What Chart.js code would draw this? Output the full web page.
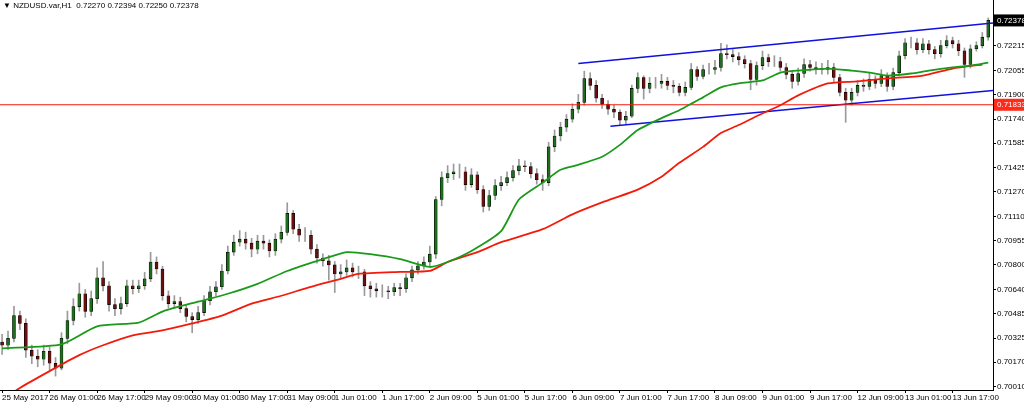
<!DOCTYPE html>
<html>
<head>
<meta charset="utf-8">
<script src="https://cdn.jsdelivr.net/npm/chart.js@4"></script>
<style>
  body { margin: 0; background: #fff; }
  #wrap { position: relative; width: 1024px; height: 402px; }
  #title { position: absolute; left: 3px; top: 1px; font: 8px 'Liberation Sans', sans-serif; color: #000; white-space: pre; }
</style>
</head>
<body>
<div id="wrap">
  <canvas id="myChart"></canvas>
  <div id="title">▼ NZDUSD.var,H1  0.72270 0.72394 0.72250 0.72378</div>
</div>
<script>
// 2-hour candles, 25 May 2017 -> 14 Jun 2017
const closes = [
  0.70279,0.70324,0.70471,0.70420,0.70247,0.70208,0.70189,0.70240,0.70163,0.70131,
  0.70324,0.70439,0.70529,0.70612,0.70497,0.70580,0.70715,0.70663,0.70542,0.70516,
  0.70548,0.70663,0.70644,0.70663,0.70708,0.70817,0.70772,0.70599,0.70548,0.70561,
  0.70516,0.70465,0.70445,0.70490,0.70567,0.70625,0.70657,0.70759,0.70881,0.70945,
  0.70965,0.70939,0.70900,0.70952,0.70939,0.70888,0.70965,0.71009,0.71131,0.71029,
  0.70990,0.70990,0.70900,0.70843,0.70824,0.70798,0.70740,0.70753,0.70779,0.70753,
  0.70753,0.70663,0.70644,0.70631,0.70631,0.70625,0.70651,0.70644,0.70715,0.70766,
  0.70792,0.70817,0.70868,0.71221,0.71362,0.71388,0.71400,0.71400,0.71317,0.71381,
  0.71285,0.71176,0.71247,0.71311,0.71330,0.71362,0.71407,0.71439,0.71433,0.71388,
  0.71349,0.71330,0.71561,0.71631,0.71689,0.71740,0.71804,0.71849,0.72003,0.71958,
  0.71875,0.71836,0.71804,0.71785,0.71734,0.71759,0.71939,0.72009,0.71939,0.71971,
  0.71971,0.71984,0.71958,0.71952,0.71913,0.71945,0.72061,0.72016,0.72061,0.72061,
  0.72074,0.72163,0.72157,0.72144,0.72125,0.72099,0.71997,0.72086,0.72138,0.72112,
  0.72112,0.72074,0.72029,0.71984,0.72035,0.72093,0.72074,0.72067,0.72061,0.72074,
  0.72009,0.71913,0.71862,0.71913,0.71958,0.71952,0.71997,0.71971,0.72022,0.71952,
  0.72041,0.72150,0.72234,0.72234,0.72189,0.72227,0.72189,0.72163,0.72215,0.72247,
  0.72227,0.72182,0.72093,0.72195,0.72215,0.72270,0.72378
];
const firstOpen = 0.70300;
const highs = [
  0.7035,0.7037,0.7053,0.7050,0.7045,0.7028,0.7025,0.7028,0.7027,0.7020,
  0.7036,0.7050,0.7058,0.7068,0.7064,0.7063,0.7078,0.7082,0.7069,0.7058,
  0.7059,0.7070,0.7070,0.7070,0.7075,0.7088,0.7085,0.7079,0.7063,0.7060,
  0.7059,0.7054,0.7049,0.7053,0.7060,0.7066,0.7069,0.7080,0.7092,0.7099,
  0.7102,0.7101,0.7097,0.7099,0.7099,0.7096,0.7100,0.7105,0.7120,0.7115,
  0.7106,0.7104,0.7102,0.7093,0.7087,0.7086,0.7082,0.7080,0.7083,0.7081,
  0.7079,0.7077,0.7069,0.7068,0.7067,0.7066,0.7068,0.7068,0.7074,0.7079,
  0.7082,0.7085,0.7092,0.7124,0.7140,0.7144,0.7145,0.7145,0.7143,0.7142,
  0.7140,0.7131,0.7128,0.7135,0.7137,0.7140,0.7144,0.7148,0.7147,0.7146,
  0.7142,0.7138,0.7159,0.7167,0.7172,0.7177,0.7184,0.7190,0.7205,0.7204,
  0.7199,0.7190,0.7186,0.7183,0.7180,0.7179,0.7196,0.7204,0.7202,0.7201,
  0.7201,0.7203,0.7201,0.7199,0.7197,0.7198,0.7210,0.7208,0.7209,0.7210,
  0.7212,0.7223,0.7222,0.7219,0.7217,0.7215,0.7212,0.7211,0.7218,0.7216,
  0.7215,0.7214,0.7210,0.7205,0.7207,0.7213,0.7212,0.7211,0.7210,0.7212,
  0.7210,0.7203,0.7194,0.7194,0.7199,0.7200,0.7204,0.7202,0.7206,0.7204,
  0.7207,0.7218,0.7226,0.7227,0.7226,0.7226,0.7225,0.7221,0.7225,0.7228,
  0.7227,0.7225,0.7220,0.7222,0.7224,0.7230,0.72394
];
const lows = [
  0.7022,0.7025,0.7030,0.7038,0.7020,0.7016,0.7014,0.7015,0.7012,0.7008,
  0.7012,0.7029,0.7041,0.7050,0.7046,0.7047,0.7055,0.7063,0.7050,0.7047,
  0.7048,0.7053,0.7061,0.7062,0.7064,0.7069,0.7074,0.7057,0.7052,0.7052,
  0.7049,0.7043,0.7036,0.7042,0.7047,0.7054,0.7060,0.7064,0.7074,0.7086,
  0.7092,0.7090,0.7085,0.7087,0.7090,0.7085,0.7086,0.7094,0.7099,0.7100,
  0.7095,0.7095,0.7087,0.7081,0.7079,0.7070,0.7062,0.7071,0.7073,0.7072,
  0.7071,0.7060,0.7059,0.7059,0.7059,0.7058,0.7060,0.7060,0.7062,0.7069,
  0.7074,0.7077,0.7079,0.7084,0.7118,0.7133,0.7135,0.7136,0.7128,0.7130,
  0.7126,0.7114,0.7115,0.7122,0.7128,0.7131,0.7134,0.7138,0.7140,0.7136,
  0.7132,0.7128,0.7131,0.7153,0.7160,0.7166,0.7172,0.7178,0.7183,0.7193,
  0.7185,0.7181,0.7177,0.7175,0.7170,0.7171,0.7175,0.7191,0.7187,0.7191,
  0.7194,0.7194,0.7193,0.7191,0.7189,0.7189,0.7193,0.7199,0.7200,0.7203,
  0.7203,0.7205,0.7213,0.7211,0.7209,0.7207,0.7193,0.7196,0.7206,0.7208,
  0.7208,0.7205,0.7200,0.7194,0.7196,0.7201,0.7205,0.7203,0.7203,0.7203,
  0.7198,0.7189,0.7172,0.7183,0.7189,0.7192,0.7193,0.7194,0.7195,0.7192,
  0.7193,0.7202,0.7213,0.7220,0.7216,0.7217,0.7216,0.7213,0.7214,0.7220,
  0.7220,0.7215,0.7201,0.7207,0.7218,0.7220,0.72250
];

// moving averages (bar index, price)
const greenIdx = [0,10,16,23,27,33,38,43,48,54,58,62,67,72,75,79,84,87,91,94,97,101,104,107,111,114,118,121,124,128,131,134,139,143,146,149,153,156,160,163,166];
const greenVals = [0.70259,0.70285,0.70401,0.70426,0.70497,0.70561,0.70612,0.70676,0.70759,0.70836,0.70881,0.70868,0.70836,0.70785,0.70817,0.70888,0.71016,0.71221,0.71330,0.71413,0.71445,0.71497,0.71574,0.71670,0.71747,0.71798,0.71881,0.71945,0.71971,0.71990,0.72041,0.72054,0.72067,0.72054,0.72041,0.72022,0.72035,0.72054,0.72074,0.72086,0.72106];
const redIdx = [-1,3,8,13,17,22,27,32,37,42,47,52,57,60,67,72,75,80,84,91,96,101,107,111,114,118,121,124,127,131,134,139,144,149,155,160,165];
const redVals = [0.69900,0.70003,0.70112,0.70215,0.70279,0.70343,0.70375,0.70420,0.70471,0.70548,0.70599,0.70657,0.70708,0.70740,0.70753,0.70759,0.70817,0.70881,0.70945,0.71029,0.71125,0.71202,0.71285,0.71368,0.71458,0.71561,0.71650,0.71702,0.71759,0.71830,0.71894,0.71971,0.71984,0.72003,0.72022,0.72067,0.72093];

// channel lines and level
const upperLine = [[97,0.72099],[166.8,0.72362]];
const lowerLine = [[102.4,0.71695],[166.8,0.71926]];
const levelPrice = 0.71833;
const lastPrice = 0.72378;

const dateLabels = ['25 May 2017','26 May 01:00','26 May 17:00','29 May 09:00','30 May 01:00','30 May 17:00','31 May 09:00','1 Jun 01:00','1 Jun 17:00','2 Jun 09:00','5 Jun 01:00','5 Jun 17:00','6 Jun 09:00','7 Jun 01:00','7 Jun 17:00','8 Jun 09:00','9 Jun 01:00','9 Jun 17:00','12 Jun 09:00','13 Jun 01:00','13 Jun 17:00'];
const priceTicks = [0.72215,0.72055,0.71900,0.71740,0.71585,0.71425,0.71270,0.71110,0.70955,0.70800,0.70640,0.70485,0.70325,0.70170,0.70010];

const xMin = -0.35, xMax = 166.8;
const axisFont = { family: "'Liberation Sans', sans-serif", size: 8 };

let wickData = [], bodyData = [], bodyColors = [];
closes.forEach((c, i) => {
  const o = i == 0 ? firstOpen : closes[i - 1];
  wickData.push({x: i, y: [lows[i], highs[i]]});
  bodyData.push({x: i, y: [o, c]});
  bodyColors.push(c >= o ? '#1e6e1e' : '#6e0f0f');
});

const lineStyle = (data, color, width) => ({
  type: 'line', data: data, borderColor: color, borderWidth: width,
  pointRadius: 0, tension: 0.2, fill: false, order: 0
});

const boxes = {
  id: 'boxes',
  afterDraw(chart) {
    const c = chart.ctx, y = chart.scales.y, a = chart.chartArea;
    c.save();
    c.font = "8px 'Liberation Sans', sans-serif";
    c.textBaseline = 'middle';
    [[lastPrice, '#000'], [levelPrice, '#ff2a1a']].forEach(([p, bg]) => {
      const py = y.getPixelForValue(p);
      c.fillStyle = bg;
      c.fillRect(a.right + 1, py - 6, 1024 - a.right - 1, 12);
      c.fillStyle = '#fff';
      c.fillText(p.toFixed(5), a.right + 4, py);
    });
    c.restore();
  }
};

new Chart(document.getElementById('myChart'), {
  type: 'bar',
  data: {
    datasets: [
      {data: wickData, backgroundColor: '#9a9a9a', barThickness: 1, grouped: false, order: 3},
      {data: bodyData, backgroundColor: bodyColors, borderColor: '#000', borderWidth: 0.6, borderSkipped: false, barThickness: 3, grouped: false, order: 2},
      lineStyle(greenIdx.map((x, i) => ({x: x, y: greenVals[i]})), '#1a9a1a', 1.8),
      lineStyle(redIdx.map((x, i) => ({x: x, y: redVals[i]})), '#f41a0a', 1.8),
      lineStyle([{x: xMin, y: levelPrice}, {x: xMax, y: levelPrice}], '#f41a0a', 1.2),
      lineStyle(upperLine.map(p => ({x: p[0], y: p[1]})), '#1010e0', 1.5),
      lineStyle(lowerLine.map(p => ({x: p[0], y: p[1]})), '#1010e0', 1.5)
    ]
  },
  options: {
    responsive: true,
    maintainAspectRatio: false,
    animation: false,
    layout: { padding: 0 },
    plugins: { legend: { display: false }, tooltip: { enabled: false } },
    scales: {
      x: {
        type: 'linear', min: xMin, max: xMax, offset: false,
        border: { display: true, color: '#000', width: 1 },
        grid: { display: true, offset: false, drawOnChartArea: false, drawTicks: true, tickLength: 3, color: '#000' },
        afterBuildTicks: s => { s.ticks = dateLabels.map((l, k) => ({value: k * 8})); },
        afterFit: s => { s.height = 12; s.paddingLeft = 0; s.paddingRight = 0; },
        ticks: {
          align: 'start', padding: 0, maxRotation: 0, autoSkip: false,
          color: '#000', font: axisFont,
          callback: (v) => dateLabels[Math.round(v / 8)]
        }
      },
      y: {
        position: 'right', min: 0.69990, max: 0.72510,
        border: { display: true, color: '#000', width: 1 },
        grid: { display: true, drawOnChartArea: false, drawTicks: true, tickLength: 3, color: '#000' },
        afterBuildTicks: s => { s.ticks = priceTicks.map(v => ({value: v})); },
        afterFit: s => { s.width = 31; s.paddingTop = 0; s.paddingBottom = 0; },
        ticks: {
          padding: 1, color: '#000', font: axisFont,
          callback: v => v.toFixed(5)
        }
      }
    }
  },
  plugins: [boxes]
});
</script>
</body>
</html>
